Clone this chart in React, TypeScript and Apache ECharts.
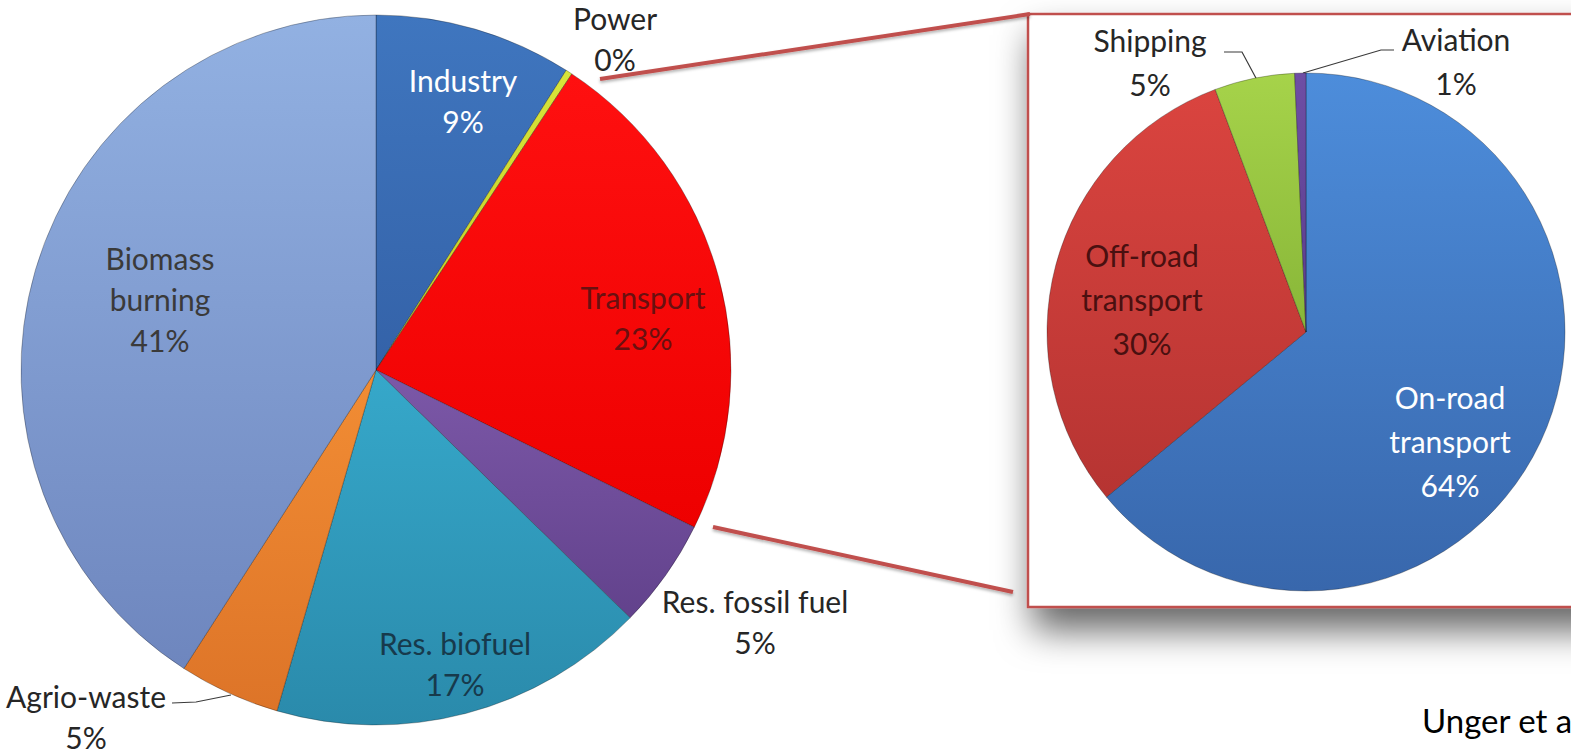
import React, { useEffect, useRef } from "react";
import * as echarts from "echarts";

// ---- Data ----
const sourceNames = ["Industry", "Power", "Transport", "Res. fossil fuel", "Res. biofuel", "Agrio-waste", "Biomass\nburning"];
const sourceValues = [9.0, 0.3, 23.0, 5.0, 17.2, 4.6, 40.9];

const transportNames = ["On-road\ntransport", "Off-road\ntransport", "Shipping", "Aviation"];
const transportValues = [64.0, 30.3, 5.0, 0.7];

const citation = "Unger et al.";

// ---- Styles ----
const sourceColors: [string, string][] = [
  ["#3f76bf", "#3462a8"],
  ["#d8e43a", "#c2cc22"],
  ["#ff1010", "#ee0000"],
  ["#7c58a8", "#62428c"],
  ["#36a8ca", "#2a8aab"],
  ["#f28d34", "#dd7428"],
  ["#92b1e2", "#6e86be"],
];
const sourceLabelColors = ["#ffffff", "#262626", "#6a1010", "#262626", "#173a4c", "#262626", "#3a3a3a"];
const sourceLabelPos: [number, number][] = [
  [463, 100], [615, 38], [643, 317], [755, 621], [455, 663], [86, 716], [160, 299],
];
const sourceLeader: Record<number, number[][]> = {
  5: [[231, 695], [196, 702], [172, 703]],
};

const transportColors: [string, string][] = [
  ["#4d8ddb", "#3867ac"],
  ["#da443f", "#b63432"],
  ["#a6d34a", "#88b638"],
  ["#6e4ea4", "#5a3d8c"],
];
const transportLabelColors = ["#ffffff", "#4a1010", "#262626", "#262626"];
const transportLabelPos: [number, number][] = [
  [1450, 441], [1142, 299], [1150, 62], [1456, 61],
];
const transportLeader: Record<number, number[][]> = {
  2: [[1257, 80], [1242, 52], [1224, 52]],
  3: [[1303, 73], [1381, 50], [1394, 50]],
};

const FONT = "Lato, 'Open Sans', sans-serif";

function grad(c: [string, string]) {
  return new echarts.graphic.LinearGradient(0, 0, 0, 1, [
    { offset: 0, color: c[0] },
    { offset: 1, color: c[1] },
  ]);
}

function buildData(names: string[], values: number[], colors: [string, string][], labelColors: string[], leaders: Record<number, number[][]>) {
  return names.map((n, i) => ({
    name: n,
    value: values[i],
    itemStyle: { color: grad(colors[i]) },
    label: { color: labelColors[i] },
    labelLine: { show: !!leaders[i] },
  }));
}

export default function App() {
  const ref = useRef<HTMLDivElement>(null);
  useEffect(() => {
    document.body.style.margin = "0";
    const chart = echarts.init(ref.current!, undefined, { renderer: "svg" });
    const pctFmt = (p: any) => `${p.name}\n${Math.round(p.value)}%`;
    const option: any = {
      animation: false,
      backgroundColor: "#ffffff",
      graphic: [
        {
          type: "rect",
          z: 0,
          shape: { x: 1028, y: 14, width: 580, height: 593 },
          style: {
            fill: "#ffffff",
            stroke: "#c0504d",
            lineWidth: 2.5,
            shadowBlur: 36,
            shadowOffsetY: 22,
            shadowOffsetX: 6,
            shadowColor: "rgba(0,0,0,0.6)",
          },
        },
        {
          type: "line",
          z: 1,
          shape: { x1: 600, y1: 79, x2: 1030, y2: 14 },
          style: { stroke: "#c0504d", lineWidth: 4, shadowBlur: 3, shadowOffsetY: 2, shadowColor: "rgba(0,0,0,0.3)" },
        },
        {
          type: "line",
          z: 1,
          shape: { x1: 713, y1: 527, x2: 1013, y2: 592 },
          style: { stroke: "#c0504d", lineWidth: 4, shadowBlur: 3, shadowOffsetY: 2, shadowColor: "rgba(0,0,0,0.3)" },
        },
        {
          type: "text",
          z: 1,
          x: 1422,
          y: 720,
          style: { text: citation, font: `33px ${FONT}`, fill: "#000000", verticalAlign: "middle", align: "left" },
        },
      ],
      series: [
        {
          type: "pie",
          z: 3,
          center: [376, 370],
          radius: 355,
          startAngle: 90,
          clockwise: true,
          avoidLabelOverlap: false,
          itemStyle: { borderColor: "rgba(0,0,0,0.28)", borderWidth: 1 },
          label: {
            show: true,
            position: "outside",
            formatter: pctFmt,
            fontFamily: FONT,
            fontSize: 30,
            lineHeight: 41,
            align: "center",
          },
          labelLine: { show: false, lineStyle: { color: "#3a3a3a", width: 1.2 } },
          labelLayout: (p: any) => {
            const pos = sourceLabelPos[p.dataIndex];
            const r: any = { x: pos[0], y: pos[1], align: "center", verticalAlign: "middle" };
            if (sourceLeader[p.dataIndex]) r.labelLinePoints = sourceLeader[p.dataIndex];
            return r;
          },
          data: buildData(sourceNames, sourceValues, sourceColors, sourceLabelColors, sourceLeader),
        },
        {
          type: "pie",
          z: 3,
          center: [1306, 332],
          radius: 259,
          startAngle: 90,
          clockwise: true,
          avoidLabelOverlap: false,
          itemStyle: { borderColor: "rgba(0,0,0,0.28)", borderWidth: 1 },
          label: {
            show: true,
            position: "outside",
            formatter: pctFmt,
            fontFamily: FONT,
            fontSize: 30,
            lineHeight: 44,
            align: "center",
          },
          labelLine: { show: false, lineStyle: { color: "#3a3a3a", width: 1.2 } },
          labelLayout: (p: any) => {
            const pos = transportLabelPos[p.dataIndex];
            const r: any = { x: pos[0], y: pos[1], align: "center", verticalAlign: "middle" };
            if (transportLeader[p.dataIndex]) r.labelLinePoints = transportLeader[p.dataIndex];
            return r;
          },
          data: buildData(transportNames, transportValues, transportColors, transportLabelColors, transportLeader),
        },
      ],
    };
    chart.setOption(option);
    return () => chart.dispose();
  }, []);
  return <div ref={ref} style={{ width: 1571, height: 754 }} />;
}
